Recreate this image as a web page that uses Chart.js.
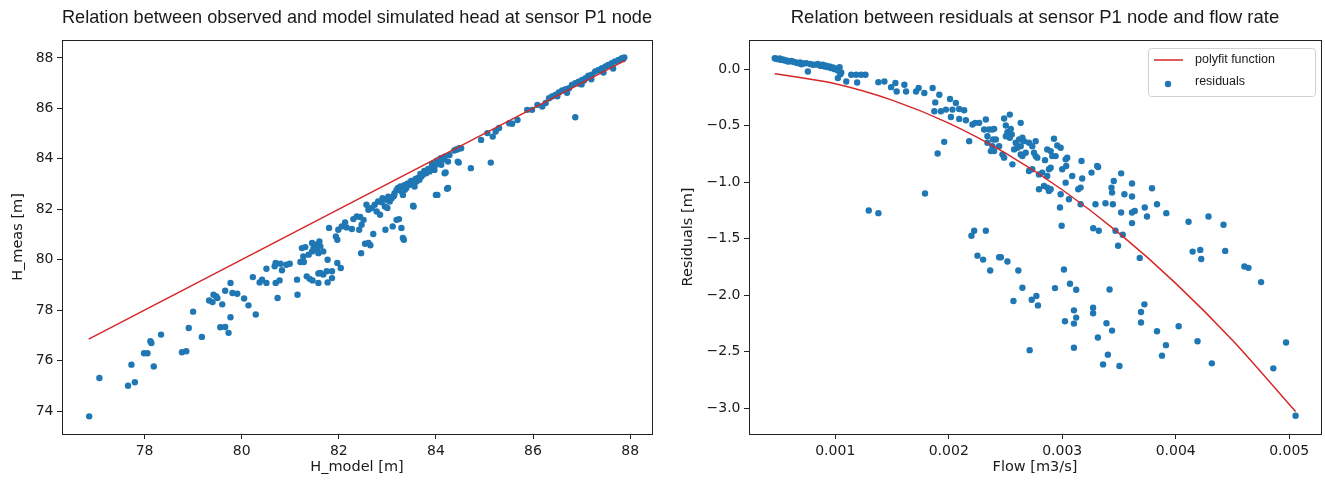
<!DOCTYPE html>
<html>
<head>
<meta charset="utf-8">
<script src="https://cdn.jsdelivr.net/npm/chart.js@4.4.0/dist/chart.umd.min.js"></script>
<style>
  body { margin: 0; background: #fff; }
  #wrap { position: relative; width: 1325px; height: 484px; }
  canvas { position: absolute; top: 0; }
</style>
</head>
<body>
<div id="wrap">
  <canvas id="headChart" width="662" height="484" style="left:0"></canvas>
  <canvas id="residChart" width="663" height="484" style="left:662px"></canvas>
</div>
<script>
// Left plot: observed vs simulated head at sensor P1
const hModel = [
  76.86, 77.07, 77.66, 77.80, 77.73, 78.19, 77.99, 78.06, 78.14, 78.12, 78.34, 78.77, 78.86, 78.91, 79.00, 79.18,
  79.33, 79.40, 79.42, 79.47, 79.50, 79.60, 79.56, 79.66, 79.73, 79.77, 79.66, 79.77, 79.81, 79.91, 80.05, 80.14,
  80.29, 80.23, 80.37, 80.42, 80.51, 80.51, 80.68, 80.70, 80.80, 80.70, 80.78, 80.74, 80.83, 80.92, 80.99, 81.14,
  81.15, 81.21, 81.28, 81.24, 81.31, 81.38, 81.45, 81.48, 81.51, 81.55, 81.58, 81.62, 81.68, 81.45, 81.60, 81.34,
  81.40, 81.46, 81.58, 81.58, 81.68, 81.75, 81.86, 81.77, 81.77, 81.97, 82.04, 81.86, 82.46, 82.54, 82.61, 82.65,
  83.34, 81.80, 81.94, 81.97, 81.99, 82.06, 82.13, 82.16, 82.27, 82.30, 82.37, 82.44, 82.47, 82.51, 82.42, 82.57,
  82.61, 82.68, 82.74, 82.78, 82.85, 82.81, 82.90, 82.95, 83.00, 83.05, 83.09, 83.12, 83.15, 83.19, 83.22, 83.25,
  83.29, 83.32, 83.36, 83.39, 83.46, 83.53, 83.56, 83.60, 83.63, 83.66, 83.70, 83.73, 83.80, 83.87, 83.90, 83.94,
  83.97, 84.00, 84.04, 84.07, 84.11, 84.14, 82.71, 82.96, 83.11, 83.19, 83.24, 83.29, 83.54, 84.03, 84.23, 84.20,
  84.25, 84.47, 84.72, 84.38, 84.45, 84.52, 81.27, 81.62, 84.93, 85.06, 85.17, 85.23, 85.30, 85.13, 85.51, 85.57,
  85.68, 85.88, 85.98, 86.09, 86.19, 86.26, 86.33, 86.39, 86.46, 86.53, 86.60, 86.67, 86.74, 86.80, 86.87, 86.94,
  87.01, 87.08, 87.14, 87.21, 87.28, 87.35, 87.42, 87.49, 87.55, 87.62, 87.69, 87.76, 87.83, 86.87, 84.41, 84.48,
  84.45, 84.18, 84.25, 84.00, 83.53, 83.32, 82.88, 82.98, 83.02, 83.14, 83.27, 83.35, 83.42, 83.49, 83.58, 83.68,
  83.76, 83.84, 83.92, 84.02, 84.10, 84.18, 84.28, 86.95, 87.05, 87.40, 87.60, 87.85, 87.88, 86.50, 86.70, 87.00,
  87.20, 87.45, 87.65
];
const hMeas = [
  73.79, 75.31, 75.00, 75.14, 75.84, 75.77, 76.29, 76.29, 76.70, 76.77, 77.03, 76.33, 76.37, 77.29, 77.94, 76.94,
  78.38, 78.32, 78.61, 78.55, 78.48, 78.23, 77.32, 77.33, 77.10, 77.72, 78.77, 79.08, 78.68, 78.65, 78.46, 78.19,
  77.83, 79.31, 79.10, 79.21, 79.08, 79.64, 79.74, 79.87, 79.84, 79.08, 79.18, 78.48, 79.58, 79.80, 79.84, 79.21,
  78.61, 79.91, 79.91, 80.46, 80.50, 80.20, 80.33, 80.46, 80.59, 80.40, 80.26, 80.53, 80.33, 80.66, 80.72, 79.34,
  79.24, 79.18, 79.08, 79.45, 79.41, 79.54, 79.27, 79.10, 80.00, 79.87, 79.67, 79.54, 80.26, 80.63, 80.66, 80.57,
  80.79, 81.26, 80.92, 80.79, 81.19, 81.32, 81.48, 81.28, 81.22, 81.61, 81.71, 81.69, 81.39, 81.58, 81.19, 82.18,
  81.98, 82.05, 82.18, 81.91, 81.78, 82.31, 82.44, 82.11, 82.05, 82.31, 82.44, 82.51, 82.64, 82.77, 82.84, 82.77,
  82.71, 82.57, 82.77, 82.84, 82.97, 83.04, 82.90, 83.10, 83.24, 83.17, 83.30, 83.37, 83.43, 83.50, 83.63, 83.70,
  83.56, 83.76, 83.83, 83.89, 83.76, 83.96, 81.02, 81.19, 81.32, 81.58, 81.61, 81.26, 82.11, 82.57, 82.81, 83.46,
  83.89, 83.85, 83.63, 84.33, 84.38, 84.42, 80.13, 79.47, 84.75, 85.02, 84.88, 85.08, 85.22, 83.85, 85.41, 85.39,
  85.54, 85.94, 85.94, 86.14, 86.07, 86.21, 86.40, 86.47, 86.53, 86.63, 86.71, 86.76, 86.80, 86.93, 87.00, 87.06,
  87.13, 87.20, 87.29, 87.33, 87.46, 87.52, 87.59, 87.66, 87.72, 87.79, 87.86, 87.92, 87.99, 85.65, 84.36, 84.42,
  83.89, 83.43, 82.84, 82.57, 82.14, 80.86, 82.28, 82.38, 82.50, 82.55, 82.90, 82.95, 83.02, 83.12, 83.20, 83.40,
  83.52, 83.60, 83.80, 83.92, 84.02, 84.08, 84.15, 86.98, 87.10, 87.50, 87.70, 87.95, 88.02, 86.48, 86.62, 86.95,
  87.15, 87.42, 87.58
];
// reference line H_meas = H_model
const lineModel = [76.85, 87.9];
const lineMeas = [76.85, 87.9];

// Right plot: residuals vs flow
const flow = [
  0.000467, 0.000496, 0.000525, 0.000554, 0.000583, 0.000613, 0.000642, 0.000671, 0.000701, 0.000745, 0.000759, 0.000803,
  0.000847, 0.000877, 0.000906, 0.000935, 0.000965, 0.000994, 0.001023, 0.001038, 0.001053, 0.001023, 0.001097, 0.001141,
  0.001185, 0.001228, 0.001266, 0.001193, 0.001380, 0.001433, 0.001492, 0.001530, 0.001541, 0.001624, 0.001609, 0.001712,
  0.001735, 0.001785, 0.001858, 0.001881, 0.001917, 0.002011, 0.002063, 0.001873, 0.001931, 0.001975, 0.002033, 0.002092,
  0.002136, 0.002019, 0.002092, 0.002151, 0.002209, 0.002233, 0.002268, 0.002327, 0.002312, 0.002356, 0.002385, 0.002180,
  0.002341, 0.002415, 0.002385, 0.002400, 0.002341, 0.001902, 0.001960, 0.001791, 0.001295, 0.001380, 0.002200, 0.002224,
  0.002327, 0.002253, 0.002303, 0.002365, 0.002444, 0.002400, 0.002391, 0.002371, 0.002488, 0.002538, 0.002503, 0.002517,
  0.002547, 0.002555, 0.002503, 0.002538, 0.002634, 0.002590, 0.002620, 0.002649, 0.002663, 0.002634, 0.002605, 0.002576,
  0.002473, 0.002488, 0.002444, 0.002561, 0.002634, 0.002649, 0.002678, 0.002707, 0.002736, 0.002766, 0.002751, 0.002766,
  0.002780, 0.002707, 0.002736, 0.002795, 0.002824, 0.002848, 0.002868, 0.002898, 0.002927, 0.002956, 0.002912, 0.002883,
  0.002898, 0.002868, 0.002795, 0.002839, 0.002868, 0.002883, 0.002898, 0.002942, 0.002986, 0.003000, 0.003030, 0.003044,
  0.003035, 0.002986, 0.002980, 0.002995, 0.003059, 0.003030, 0.003088, 0.003141, 0.003162, 0.003176, 0.003170, 0.003162,
  0.003258, 0.003316, 0.003293, 0.003381, 0.003446, 0.003273, 0.003322, 0.003434, 0.003439, 0.003454, 0.003519, 0.003519,
  0.003548, 0.003469, 0.003533, 0.003615, 0.003615, 0.003615, 0.003639, 0.003615, 0.003727, 0.003747, 0.003791, 0.003835,
  0.003917, 0.004113, 0.004289, 0.004421, 0.003492, 0.003308, 0.002459, 0.002517, 0.002613, 0.002649, 0.002570, 0.002713,
  0.002731, 0.002772, 0.002786, 0.002936, 0.003015, 0.003024, 0.003068, 0.003123, 0.003103, 0.003103, 0.003123, 0.003103,
  0.003272, 0.003272, 0.003314, 0.003360, 0.003402, 0.003390, 0.003439, 0.003417, 0.003504, 0.003683, 0.003694, 0.003694,
  0.003724, 0.003835, 0.003879, 0.003914, 0.004026, 0.004149, 0.004216, 0.004225, 0.004192, 0.004318, 0.004436, 0.004605,
  0.004641, 0.004752, 0.004860, 0.004972, 0.005056, 0.000480, 0.000510, 0.000540, 0.000570, 0.000600, 0.000630, 0.000660,
  0.000690, 0.000720, 0.000780, 0.000820, 0.000860, 0.000890, 0.000920, 0.000950, 0.000980, 0.001010, 0.001045
];
const resid = [
  0.097, 0.088, 0.082, 0.076, 0.067, 0.073, 0.062, 0.053, 0.044, 0.053, -0.021, 0.038,
  0.047, 0.029, 0.023, 0.018, 0.009, 0.000, -0.012, 0.018, -0.030, -0.079, -0.109, -0.050,
  -0.050, -0.050, -0.050, -0.118, -0.115, -0.109, -0.159, -0.123, -0.197, -0.197, -0.138, -0.197,
  -0.167, -0.211, -0.167, -0.294, -0.226, -0.264, -0.299, -0.373, -0.373, -0.358, -0.358, -0.352,
  -0.364, -0.423, -0.440, -0.452, -0.490, -0.475, -0.475, -0.446, -0.534, -0.534, -0.534, -0.637,
  -0.593, -0.622, -0.681, -0.725, -0.651, -0.746, -0.643, -1.100, -1.250, -1.274, -1.474, -1.430,
  -1.430, -1.650, -1.685, -1.782, -1.664, -0.528, -0.622, -0.725, -0.437, -0.402, -0.499, -0.558,
  -0.528, -0.578, -0.593, -0.607, -0.475, -0.651, -0.622, -0.607, -0.637, -0.681, -0.695, -0.710,
  -0.754, -0.783, -0.681, -0.842, -0.754, -0.769, -0.739, -0.651, -0.681, -0.637, -0.739, -0.769,
  -0.783, -0.901, -0.886, -0.931, -0.915, -0.805, -0.710, -0.725, -0.616, -0.675, -0.769, -0.886,
  -0.872, -0.945, -1.063, -1.033, -1.048, -1.077, -1.063, -0.769, -0.695, -0.886, -0.798, -0.783,
  -0.857, -1.107, -1.224, -1.386, -1.151, -1.004, -0.945, -1.063, -1.048, -0.968, -0.813, -1.195,
  -0.915, -0.866, -1.195, -1.186, -1.195, -1.408, -1.430, -1.048, -1.092, -0.989, -0.922, -1.268,
  -1.107, -1.430, -1.465, -1.012, -1.127, -1.268, -1.254, -1.362, -1.224, -1.303, -1.054, -1.195,
  -1.274, -1.350, -1.303, -1.377, -1.562, -0.857, -1.664, -1.702, -1.782, -1.934, -2.051, -2.486,
  -2.040, -2.007, -2.090, -1.937, -1.773, -2.231, -1.899, -1.952, -2.134, -2.251, -2.198, -2.465,
  -2.111, -2.160, -2.374, -2.612, -2.526, -2.248, -2.313, -1.949, -2.627, -1.670, -2.148, -2.242,
  -2.081, -2.319, -2.535, -2.442, -2.275, -1.614, -1.599, -1.679, -2.407, -2.603, -1.608, -1.746,
  -1.758, -1.884, -2.647, -2.418, -3.067, 0.092, 0.095, 0.085, 0.078, 0.070, 0.066, 0.058,
  0.060, 0.050, 0.045, 0.040, 0.035, 0.040, 0.030, 0.025, 0.015, 0.005, -0.045
];
// polyfit curve, read at a few flows
const fitFlow = [0.000467, 0.001, 0.0015, 0.002, 0.0025, 0.003, 0.0035, 0.004, 0.0045, 0.005056];
const fitResid = [-0.041, -0.129, -0.274, -0.478, -0.743, -1.067, -1.451, -1.895, -2.399, -3.03];

const modelTicks = [78, 80, 82, 84, 86, 88];
const measTicks = [74, 76, 78, 80, 82, 84, 86, 88];
const flowTicks = [0.001, 0.002, 0.003, 0.004, 0.005];
const residTicks = [0, -0.5, -1.0, -1.5, -2.0, -2.5, -3.0];

const pts = (xs, ys) => xs.map((x, i) => ({ x: x, y: ys[i] }));
const ink = "#1a1a1a";
const blue = "#1f77b4";
const red = "#d62728";

Chart.defaults.font.family = "'DejaVu Sans', sans-serif";
Chart.defaults.color = ink;

// black box round the plot area, like matplotlib spines
const frame = {
  id: "frame",
  afterDatasetsDraw(chart) {
    const a = chart.chartArea, c = chart.ctx;
    c.save();
    c.strokeStyle = "#222";
    c.lineWidth = 1;
    c.strokeRect(Math.floor(a.left) + 0.5, Math.floor(a.top) + 0.5,
      Math.round(a.right - a.left), Math.round(a.bottom - a.top));
    c.restore();
  }
};

// legend drawn inside the plot area, top right
const boxLegend = {
  id: "boxLegend",
  afterDraw(chart) {
    const a = chart.chartArea, c = chart.ctx, ds = chart.data.datasets;
    const w = 167, h = 48;
    const x = Math.round(a.right - 6 - w), y = Math.round(a.top + 8);
    c.save();
    c.fillStyle = "rgba(255,255,255,0.85)";
    c.strokeStyle = "#d0d0d0";
    c.lineWidth = 1;
    c.beginPath();
    c.roundRect(x + 0.5, y + 0.5, w, h, 3);
    c.fill();
    c.stroke();
    c.font = "12.5px 'Liberation Sans'";
    c.textBaseline = "middle";
    c.strokeStyle = ds[0].borderColor;
    c.lineWidth = 1.5;
    c.beginPath();
    c.moveTo(x + 6, y + 12);
    c.lineTo(x + 35, y + 12);
    c.stroke();
    c.fillStyle = ink;
    c.fillText(ds[0].label, x + 47, y + 12);
    c.fillStyle = ds[1].backgroundColor;
    c.beginPath();
    c.arc(x + 20, y + 36, 3.2, 0, 2 * Math.PI);
    c.fill();
    c.fillStyle = ink;
    c.fillText(ds[1].label, x + 47, y + 34);
    c.restore();
  }
};

function axis(min, max, ticks, fmt, title, titlePad, size, isX) {
  return {
    type: "linear",
    min: min,
    max: max,
    afterBuildTicks: (s) => { s.ticks = ticks.map((v) => ({ value: v })); },
    afterFit: (s) => { if (isX) s.height = size; else s.width = size; },
    border: { display: false },
    grid: { drawOnChartArea: false, drawTicks: true, tickLength: 5, color: "#222" },
    ticks: { font: { size: 14 }, color: ink, padding: 3.5, maxRotation: 0, callback: fmt },
    title: { display: true, text: title, font: { size: 14.5 }, color: ink, padding: titlePad }
  };
}

function titleOpts(text) {
  return {
    display: true,
    text: text,
    fullSize: false,
    color: ink,
    font: { family: "'Liberation Sans'", size: 18.5, weight: "normal" },
    padding: { top: 7, bottom: 10.8 }
  };
}

new Chart(document.getElementById("headChart"), {
  type: "scatter",
  data: {
    datasets: [
      {
        label: "y = x",
        data: pts(lineModel, lineMeas),
        showLine: true,
        borderColor: red,
        borderWidth: 1.5,
        pointRadius: 0
      },
      {
        label: "H_meas",
        data: pts(hModel, hMeas),
        backgroundColor: blue,
        borderWidth: 0,
        pointRadius: 3.2
      }
    ]
  },
  options: {
    responsive: false,
    animation: false,
    events: [],
    layout: { padding: { left: 0, right: 10, top: 0, bottom: 0 } },
    plugins: {
      legend: { display: false },
      tooltip: { enabled: false },
      title: titleOpts("Relation between observed and model simulated head at sensor P1 node")
    },
    scales: {
      x: axis(76.30, 88.45, modelTicks, (v) => String(v), "H_model [m]", { top: 0, bottom: 8.3 }, 50, true),
      y: axis(73.09, 88.71, measTicks, (v) => String(v), "H_meas [m]", { top: 9.3, bottom: 0 }, 62, false)
    }
  },
  plugins: [frame]
});

new Chart(document.getElementById("residChart"), {
  type: "scatter",
  data: {
    datasets: [
      {
        label: "polyfit function",
        data: pts(fitFlow, fitResid),
        showLine: true,
        cubicInterpolationMode: "monotone",
        borderColor: red,
        borderWidth: 1.5,
        pointRadius: 0
      },
      {
        label: "residuals",
        data: pts(flow, resid),
        backgroundColor: blue,
        borderWidth: 0,
        pointRadius: 3.2
      }
    ]
  },
  options: {
    responsive: false,
    animation: false,
    events: [],
    layout: { padding: { left: 0, right: 2, top: 0, bottom: 0 } },
    plugins: {
      legend: { display: false },
      tooltip: { enabled: false },
      title: titleOpts("Relation between residuals at sensor P1 node and flow rate")
    },
    scales: {
      x: axis(0.00024, 0.00528, flowTicks, (v) => v.toFixed(3), "Flow [m3/s]", { top: 0, bottom: 8.3 }, 50, true),
      y: axis(-3.228, 0.258, residTicks, (v) => (v < 0 ? "\u2212" : "") + Math.abs(v).toFixed(1),
        "Residuals [m]", { top: 17.3, bottom: 0 }, 87, false)
    }
  },
  plugins: [frame, boxLegend]
});
</script>
</body>
</html>
